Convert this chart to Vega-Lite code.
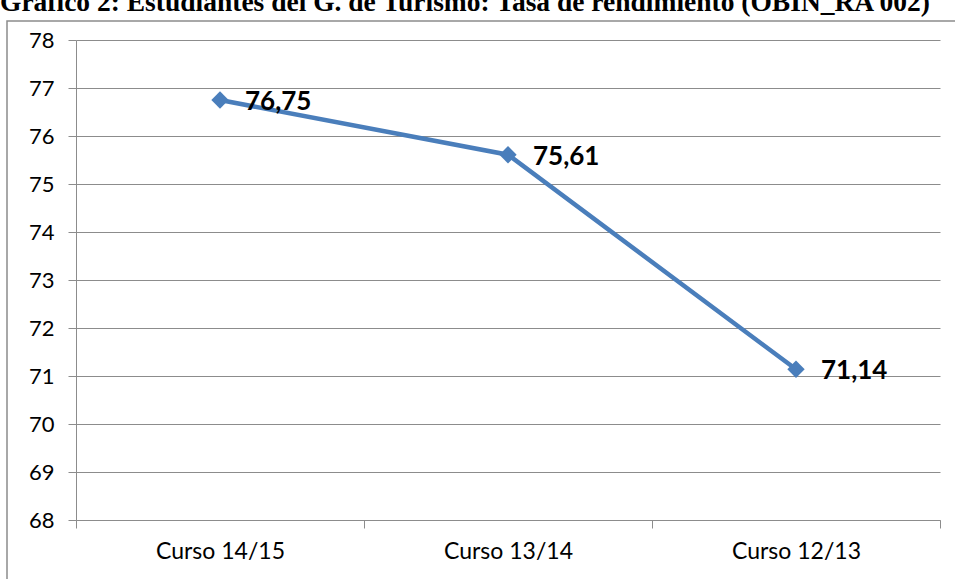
{
  "$schema": "https://vega.github.io/schema/vega-lite/v6.json",
  "width": 960,
  "height": 580,
  "autosize": {"type": "none"},
  "padding": {"left": 7, "top": 21, "right": 0, "bottom": 0},
  "background": "white",
  "title": {
    "text": "Gráfico 2: Estudiantes del G. de Turismo: Tasa de rendimiento (OBIN_RA 002)",
    "anchor": "start",
    "frame": "group",
    "font": "Liberation Serif",
    "fontSize": 27.5,
    "fontWeight": "bold",
    "color": "black",
    "offset": 4,
    "baseline": "bottom",
    "dx": -7,
    "dy": 27
  },
  "data": {
    "values": [
      {"curso": "Curso 14/15", "tasa": 76.75, "label": "76,75"},
      {"curso": "Curso 13/14", "tasa": 75.61, "label": "75,61"},
      {"curso": "Curso 12/13", "tasa": 71.14, "label": "71,14"}
    ]
  },
  "encoding": {
    "x": {
      "field": "curso",
      "type": "nominal",
      "sort": null,
      "scale": {"type": "band", "range": [69, 933], "paddingInner": 0, "paddingOuter": 0},
      "axis": {
        "title": null,
        "orient": "bottom",
        "offset": -81,
        "tickBand": "extent",
        "tickSize": 8,
        "tickColor": "#8c8c8c",
        "domainColor": "#8c8c8c",
        "labelFont": "Lato",
        "labelFontSize": 23,
        "labelColor": "black",
        "labelPadding": 12,
        "labelAngle": 0,
        "grid": false
      }
    },
    "y": {
      "field": "tasa",
      "type": "quantitative",
      "scale": {"domain": [68, 78], "range": [499, 19], "nice": false, "zero": false},
      "axis": {
        "title": null,
        "values": [68, 69, 70, 71, 72, 73, 74, 75, 76, 77, 78],
        "offset": -69,
        "tickSize": 8,
        "tickColor": "#8c8c8c",
        "domainColor": "#8c8c8c",
        "grid": true,
        "gridColor": "#8c8c8c",
        "gridOpacity": 1,
        "labelFont": "Lato",
        "labelFontSize": 22,
        "labelColor": "black",
        "labelPadding": 14
      }
    }
  },
  "layer": [
    {"mark": {"type": "line", "color": "#4A7EBB", "strokeWidth": 4.5}},
    {"mark": {"type": "point", "shape": "diamond", "filled": true, "size": 300, "color": "#4A7EBB", "opacity": 1}},
    {
      "mark": {"type": "text", "align": "left", "baseline": "middle", "dx": 25, "dy": 2, "font": "Lato", "fontSize": 26, "fontWeight": "bold", "color": "black"},
      "encoding": {"text": {"field": "label"}}
    }
  ],
  "config": {"view": {"stroke": "#8c8c8c", "strokeWidth": 1.5}}
}
